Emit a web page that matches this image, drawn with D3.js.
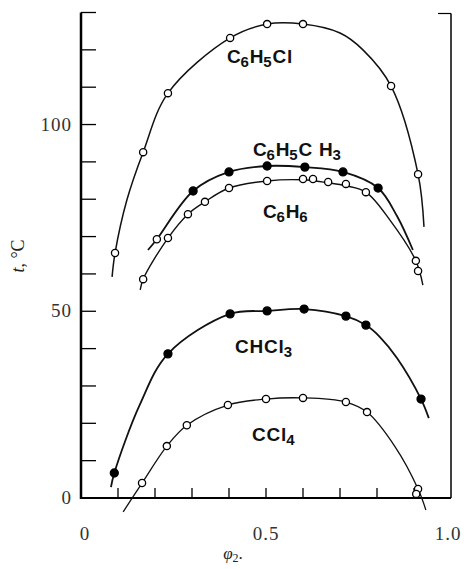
<!DOCTYPE html>
<html>
<head>
<meta charset="utf-8">
<script src="https://cdn.jsdelivr.net/npm/d3@7"></script>
<style>
  html, body { margin: 0; padding: 0; background: #fff; }
  svg { display: block; }
</style>
</head>
<body>
<div id="chart"></div>
<script>
// measured points [phi2, t °C]
const chlorobenzenePts = [[0.092, 65.6], [0.168, 92.6], [0.235, 108.4], [0.403, 123.2], [0.503, 126.9], [0.6, 126.9], [0.838, 110.3], [0.911, 86.7]]
const toluenePts = [[0.303, 82.2], [0.4, 87.3], [0.503, 88.9], [0.605, 88.6], [0.708, 87.3], [0.803, 83.0]]
const tolueneOpenPts = [[0.205, 69.3]]
const benzenePts = [[0.168, 58.6], [0.235, 69.6], [0.289, 76.0], [0.335, 79.3], [0.4, 83.0], [0.503, 84.9], [0.6, 85.4], [0.627, 85.4], [0.668, 84.6], [0.716, 84.1], [0.77, 81.9], [0.905, 63.5], [0.911, 60.8]]
const chloroformPts = [[0.09, 6.7], [0.235, 38.6], [0.403, 49.3], [0.503, 50.1], [0.603, 50.6], [0.716, 48.7], [0.77, 46.3], [0.919, 26.5]]
const carbonTetPts = [[0.165, 4.0], [0.232, 13.9], [0.286, 19.5], [0.397, 24.9], [0.5, 26.5], [0.6, 26.8], [0.716, 25.7], [0.773, 23.0], [0.911, 2.4], [0.906, 1.1]]

// smooth curves
const chlorobenzeneCurve = [[0.084, 59.2], [0.092, 65.6], [0.124, 79.8], [0.168, 92.6], [0.235, 108.4], [0.403, 123.2], [0.503, 126.9], [0.6, 126.9], [0.7, 124.5], [0.762, 120.0], [0.838, 110.3], [0.911, 86.7], [0.927, 72.6]]
const tolueneCurve = [[0.181, 66.4], [0.205, 69.3], [0.303, 82.2], [0.4, 87.3], [0.503, 88.9], [0.605, 88.6], [0.708, 87.3], [0.803, 83.0], [0.854, 75.5], [0.897, 66.4]]
const benzeneCurve = [[0.16, 55.7], [0.168, 58.6], [0.235, 69.6], [0.289, 76.0], [0.335, 79.3], [0.4, 83.0], [0.503, 84.9], [0.6, 85.2], [0.668, 84.4], [0.716, 83.6], [0.77, 81.9], [0.835, 74.4], [0.905, 63.5], [0.924, 57.0]]
const chloroformCurve = [[0.081, 2.9], [0.09, 6.7], [0.159, 25.0], [0.235, 38.6], [0.403, 49.3], [0.503, 50.1], [0.603, 50.6], [0.716, 48.7], [0.77, 46.3], [0.808, 43.1], [0.854, 37.5], [0.919, 26.5], [0.94, 21.4]]
const carbonTetCurve = [[0.114, -3.7], [0.165, 4.0], [0.232, 13.9], [0.286, 19.5], [0.397, 24.9], [0.5, 26.5], [0.6, 26.8], [0.716, 25.7], [0.773, 23.0], [0.849, 13.7], [0.911, 2.4], [0.932, -3.2]]

const xTicks = [0.1, 0.2, 0.3, 0.4, 0.5, 0.6, 0.7, 0.8, 0.9]
const xLabels = [0, 0.5, 1.0]
const yTicks = [10, 20, 30, 40, 50, 60, 70, 80, 90, 100, 110, 120, 130]
const yLabels = [0, 50, 100]

const width = 464, height = 569

const svg = d3.select("#chart").append("svg")
  .attr("width", width).attr("height", height)

const x = d3.scaleLinear().domain([0, 1]).range([81, 451])
const y = d3.scaleLinear().domain([0, 130]).range([498, 12.5])

// frame: left and bottom axes heavy, right side thin
svg.append("line")
  .attr("x1", x(0)).attr("x2", x(0)).attr("y1", y(130)).attr("y2", y(0) + 1)
  .attr("stroke", "#000").attr("stroke-width", 2.5)
svg.append("line")
  .attr("x1", x(0)).attr("x2", x(1)).attr("y1", y(0)).attr("y2", y(0))
  .attr("stroke", "#000").attr("stroke-width", 2)
svg.append("line")
  .attr("x1", x(1)).attr("x2", x(1)).attr("y1", y(130) + 1).attr("y2", y(0))
  .attr("stroke", "#000").attr("stroke-width", 1.5)
svg.append("line")
  .attr("x1", x(1) - 13).attr("x2", x(1)).attr("y1", y(130) + 1).attr("y2", y(130) + 1)
  .attr("stroke", "#000").attr("stroke-width", 1.2)

// ticks point inward
svg.selectAll(".ytick").data(yTicks).join("line")
  .attr("x1", x(0)).attr("x2", x(0) + 15)
  .attr("y1", d => y(d)).attr("y2", d => y(d))
  .attr("stroke", "#000").attr("stroke-width", 1.3)

svg.selectAll(".xtick").data(xTicks).join("line")
  .attr("x1", d => x(d)).attr("x2", d => x(d))
  .attr("y1", y(0)).attr("y2", y(0) - 10)
  .attr("stroke", "#000").attr("stroke-width", 1.3)

const numFont = "'Liberation Serif', 'DejaVu Serif', serif"

svg.selectAll(".ylab").data(yLabels).join("text")
  .attr("x", 72).attr("y", d => y(d) + 6)
  .attr("text-anchor", "end")
  .attr("font-family", numFont).attr("font-size", 19)
  .attr("letter-spacing", 1)
  .attr("fill", "#333")
  .text(d => d)

svg.selectAll(".xlab").data(xLabels).join("text")
  .attr("x", (d, i) => x(d) + (i === 0 ? 4 : i === 2 ? -3 : 0))
  .attr("y", 540)
  .attr("text-anchor", "middle")
  .attr("font-family", numFont).attr("font-size", 19)
  .attr("letter-spacing", 1)
  .attr("fill", "#333")
  .text(d => d3.format(".1f")(d).replace(/^0\.0$/, "0"))

// axis titles
const yTitle = svg.append("text")
  .attr("transform", "translate(24,256) rotate(-90)")
  .attr("text-anchor", "middle")
  .attr("font-family", numFont).attr("font-size", 18)
  .attr("fill", "#222")
yTitle.append("tspan").attr("font-style", "italic").text("t")
yTitle.append("tspan").text(", °C")

const xTitle = svg.append("text")
  .attr("x", 233).attr("y", 559)
  .attr("text-anchor", "middle")
  .attr("font-family", numFont).attr("font-size", 17)
  .attr("fill", "#222")
xTitle.append("tspan").attr("font-style", "italic").text("φ")
xTitle.append("tspan").attr("font-size", 12).attr("dy", 3).text("2")
xTitle.append("tspan").attr("dy", -3).text(".")

// curves
const line = d3.line()
  .x(d => x(d[0])).y(d => y(d[1]))
  .curve(d3.curveCatmullRom.alpha(0.5))

const curves = [
  [chlorobenzeneCurve, 1.5],
  [tolueneCurve, 1.8],
  [benzeneCurve, 1.4],
  [chloroformCurve, 1.8],
  [carbonTetCurve, 1.3]
]
curves.forEach(([pts, w]) => {
  svg.append("path")
    .attr("d", line(pts))
    .attr("fill", "none")
    .attr("stroke", "#111")
    .attr("stroke-width", w)
})

// markers
function markers(pts, filled) {
  svg.append("g").selectAll("circle").data(pts).join("circle")
    .attr("cx", d => x(d[0])).attr("cy", d => y(d[1]))
    .attr("r", filled ? 4 : 3.6)
    .attr("fill", filled ? "#000" : "#fff")
    .attr("stroke", "#000")
    .attr("stroke-width", 1.3)
}
markers(chlorobenzenePts, false)
markers(benzenePts, false)
markers(tolueneOpenPts, false)
markers(toluenePts, true)
markers(chloroformPts, true)
markers(carbonTetPts, false)

// curve labels with subscripts
const labelFont = "'Liberation Sans', Arial, sans-serif"
const curveLabels = [
  { parts: [["C"], ["6", 1], ["H"], ["5", 1], ["Cl"]], x: 227, y: 63 },
  { parts: [["C"], ["6", 1], ["H"], ["5", 1], ["C H"], ["3", 1]], x: 253, y: 156 },
  { parts: [["C"], ["6", 1], ["H"], ["6", 1]], x: 263, y: 218 },
  { parts: [["CHCl"], ["3", 1]], x: 235, y: 353 },
  { parts: [["CCl"], ["4", 1]], x: 252, y: 441 }
]
curveLabels.forEach(lab => {
  const t = svg.append("text")
    .attr("x", lab.x).attr("y", lab.y)
    .attr("font-family", labelFont)
    .attr("font-weight", "bold")
    .attr("font-size", 19)
    .attr("letter-spacing", 0.8)
    .attr("fill", "#111")
  let low = false
  lab.parts.forEach(([s, sub]) => {
    const ts = t.append("tspan").text(s)
    if (sub) {
      ts.attr("font-size", 15).attr("dy", low ? 0 : 4).attr("dx", -1)
      low = true
    } else if (low) {
      ts.attr("dy", -4)
      low = false
    }
  })
})
</script>
</body>
</html>
